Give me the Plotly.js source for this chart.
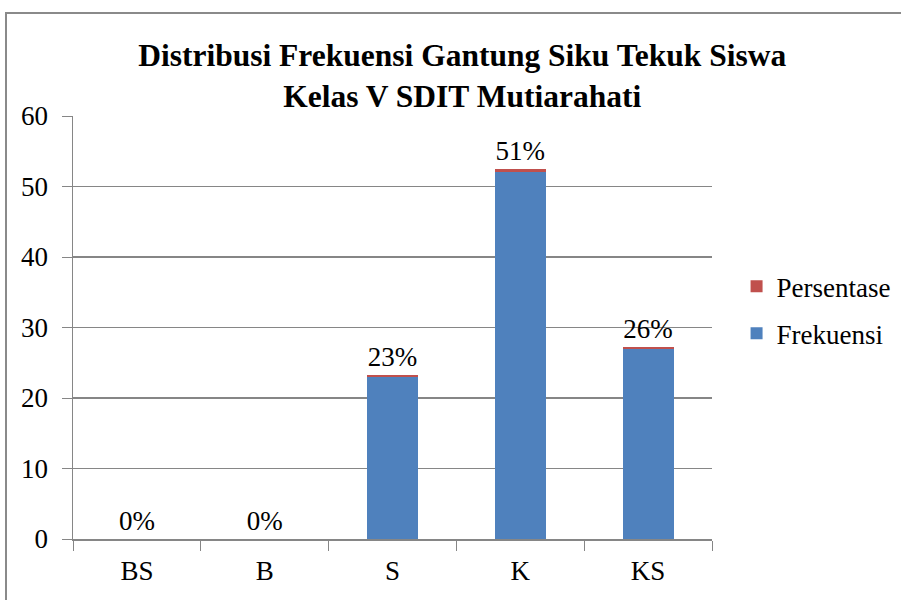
<!DOCTYPE html>
<html>
<head>
<meta charset="utf-8">
<script src="https://cdn.plot.ly/plotly-3.0.1.min.js"></script>
<style>
  body { margin: 0; padding: 0; background: #fff; }
  #chart { position: absolute; left: 0; top: 0; width: 901px; height: 600px; }
  #frame { position: absolute; left: 5px; top: 12px; width: 1000px; height: 700px;
           border: 2px solid #8a8a8a; pointer-events: none; z-index: 10; }
</style>
</head>
<body>
<div id="chart"></div>
<div id="frame"></div>
<script>
const categories = ["BS", "B", "S", "K", "KS"];
const frekuensi = [0, 0, 23, 52, 27];
const persentase = [0, 0, 0.23, 0.51, 0.26];
const percentLabels = persentase.map(p => Math.round(p * 100) + "%");

const font = "'Liberation Serif', 'Times New Roman', serif";

const traces = [
  {
    type: "bar", name: "Frekuensi", x: categories, y: frekuensi,
    marker: { color: "#4F81BD" }, legendgroup: "f", legendrank: 2, hoverinfo: "skip"
  },
  {
    type: "bar", name: "Persentase", x: categories, y: persentase,
    marker: { color: "#C0504D" }, legendgroup: "p", legendrank: 1,
    text: percentLabels, textposition: "outside", cliponaxis: false,
    textfont: { family: font, size: 27, color: "#000" }, hoverinfo: "skip"
  }
];

const layout = {
  width: 901, height: 600,
  margin: { l: 73, r: 189, t: 116, b: 61, autoexpand: false },
  paper_bgcolor: "#fff", plot_bgcolor: "#fff",
  barmode: "stack", bargap: 0.6,
  font: { family: font, size: 27, color: "#000" },
  title: {
    text: "<b>Distribusi Frekuensi Gantung Siku Tekuk Siswa<br>Kelas V SDIT Mutiarahati</b>",
    font: { family: font, size: 31.5, color: "#000" },
    xref: "container", x: 0.513, xanchor: "center",
    yref: "container", y: 0.89, yanchor: "top"
  },
  xaxis: {
    type: "category", showline: true, linecolor: "#868686", linewidth: 1.5,
    ticks: "outside", tickson: "boundaries", ticklen: 10, tickcolor: "#868686",
    ticklabelstandoff: 7, automargin: false,
    tickfont: { family: font, size: 27, color: "#000" }, showgrid: false
  },
  yaxis: {
    range: [0, 60], dtick: 10, showline: true, linecolor: "#868686", linewidth: 1.5,
    ticks: "outside", ticklen: 10, tickcolor: "#868686", ticklabelstandoff: 8,
    showgrid: true, gridcolor: "#868686", gridwidth: 1.5, zeroline: false, automargin: false,
    tickfont: { family: font, size: 27, color: "#000" }
  },
  legend: {
    xref: "container", yref: "container",
    x: 0.8175, xanchor: "left", y: 0.483, yanchor: "middle",
    traceorder: "grouped", tracegroupgap: 9,
    font: { family: font, size: 27, color: "#000" }
  },
  showlegend: true
};

Plotly.newPlot("chart", traces, layout, { displayModeBar: false, staticPlot: true });
</script>
</body>
</html>
